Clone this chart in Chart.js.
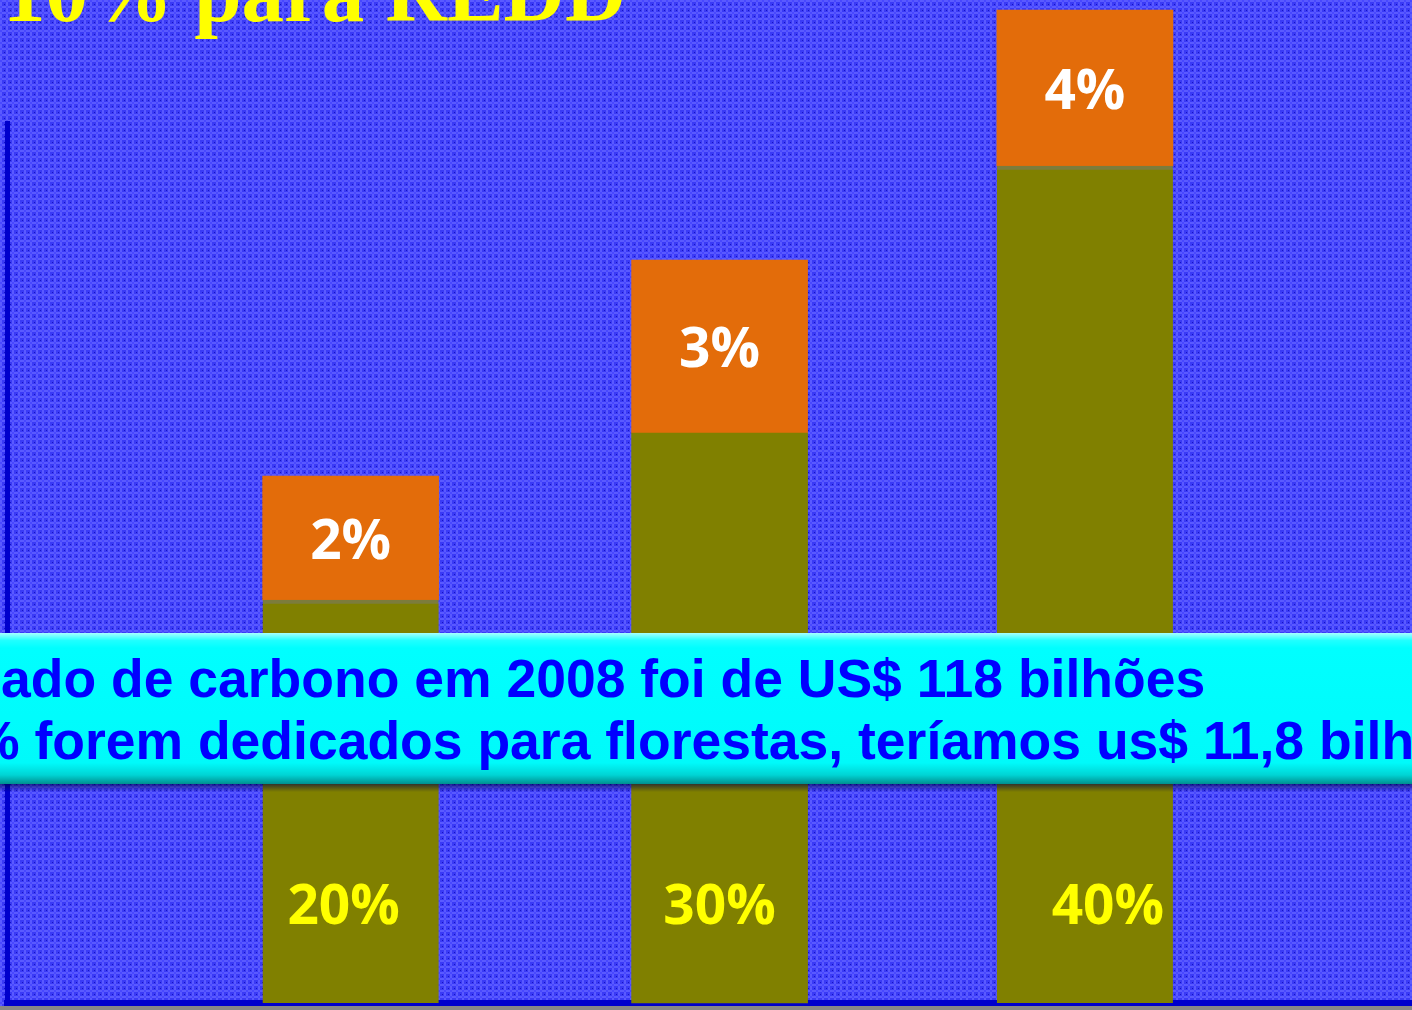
<!DOCTYPE html>
<html><head><meta charset="utf-8">
<script src="https://cdn.jsdelivr.net/npm/chart.js@4.4.1/dist/chart.umd.min.js"></script>
<style>
html,body{margin:0;padding:0;background:#878787;overflow:hidden;}
#wrap{width:1412px;height:1006px;position:relative;}
</style></head><body>
<div id="wrap"><canvas id="c"></canvas></div>
<script>
// ---- data ----
const barSlots = [1, 2.005, 3];
const baseValues = [20.15, 28.5, 41.85];
const topValues = [6.2, 8.65, 7.8];
const baseLabels = ['20%', '30%', '40%'];
const topLabels = ['2%', '3%', '4%'];
const baseLabelLevel = 5;
const titleText = '10% para REDD';
const bannerLines = [
  'ado de carbono em 2008 foi de US$ 118 bilhões',
  '% forem dedicados para florestas, teríamos us$ 11,8 bilhões'
];

function makePattern(ctx){
  const p = document.createElement('canvas'); p.width = 6; p.height = 6;
  const g = p.getContext('2d');
  g.fillStyle = '#3a3af6'; g.fillRect(0,0,6,6);
  g.fillStyle = '#5a5aff'; g.fillRect(0,0,6,2); g.fillRect(0,0,2,6);
  g.fillStyle = '#4848ff'; g.fillRect(0,0,2,2);
  g.fillStyle = '#1515c0'; g.fillRect(4,4,1,1);
  return ctx.createPattern(p, 'repeat');
}

const bgPlugin = {
  id: 'bg',
  beforeDraw(chart){
    const ctx = chart.ctx;
    ctx.save();
    ctx.fillStyle = makePattern(ctx);
    ctx.fillRect(0, 0, chart.width, chart.height);
    ctx.restore();
  }
};

const labelPlugin = {
  id: 'segLabels',
  afterDatasetsDraw(chart, args, opts){
    const ctx = chart.ctx, y = chart.scales.y;
    ctx.save();
    ctx.textAlign = 'center';
    ctx.textBaseline = 'middle';
    ctx.font = 'bold 55px "Open Sans"';
    chart.getDatasetMeta(1).data.forEach((bar, i) => {
      ctx.fillStyle = '#ffffff';
      ctx.fillText(topLabels[i], bar.x, (bar.y + bar.base) / 2 + opts.dy);
    });
    chart.getDatasetMeta(0).data.forEach((bar, i) => {
      ctx.fillStyle = '#ffff00';
      ctx.fillText(baseLabels[i], bar.x + opts.nudge[i], y.getPixelForValue(baseLabelLevel) + opts.dy);
    });
    ctx.restore();
  }
};

const overlayPlugin = {
  id: 'overlay',
  afterDraw(chart){
    const ctx = chart.ctx, w = chart.width;
    ctx.save();
    // title
    ctx.fillStyle = '#ffff00';
    ctx.font = 'bold 85px "Liberation Serif"';
    ctx.textAlign = 'left';
    ctx.textBaseline = 'alphabetic';
    ctx.fillText(titleText, 3, 21);
    // banner shadow
    const top = 633, bot = 784;
    const sh = ctx.createLinearGradient(0, bot, 0, bot + 8);
    sh.addColorStop(0, 'rgba(0,0,70,0.6)');
    sh.addColorStop(1, 'rgba(0,0,70,0)');
    ctx.fillStyle = sh;
    ctx.fillRect(0, bot, w, 8);
    // banner
    const g = ctx.createLinearGradient(0, top, 0, bot);
    g.addColorStop(0, '#a8ffff');
    g.addColorStop(0.05, '#20ffff');
    g.addColorStop(0.1, '#00ffff');
    g.addColorStop(0.86, '#00fafa');
    g.addColorStop(0.94, '#00d4d4');
    g.addColorStop(1, '#008f8f');
    ctx.fillStyle = g;
    ctx.fillRect(0, top, w, bot - top);
    ctx.fillStyle = '#0000ff';
    ctx.font = 'bold 53.5px "Liberation Sans"';
    ctx.fillText(bannerLines[0], 1, 697);
    ctx.fillText(bannerLines[1], -28, 759);
    ctx.restore();
  }
};

Promise.all([
  document.fonts.load('bold 55px "Open Sans"'),
  document.fonts.load('bold 53px "Liberation Sans"'),
  document.fonts.load('bold 85px "Liberation Serif"')
]).catch(()=>{}).then(() => {
  new Chart(document.getElementById('c'), {
    type: 'bar',
    data: {
      datasets: [
        { data: barSlots.map((x, i) => ({ x, y: baseValues[i] })), backgroundColor: '#808000',
          borderColor: '#7c7c3c', borderWidth: [{ top: 4 }, { top: 0 }, { top: 4 }], borderSkipped: 'start',
          clip: false, barThickness: 176 },
        { data: barSlots.map((x, i) => ({ x, y: topValues[i] })), backgroundColor: '#e36c0a', clip: false, barThickness: 176 }
      ]
    },
    options: {
      responsive: true, maintainAspectRatio: false, animation: false,
      layout: { padding: { top: 123, left: 7, right: 0, bottom: 3 } },
      plugins: { legend: { display: false }, tooltip: { enabled: false }, segLabels: { nudge: [-7, 0, 23], dy: 5 } },
      scales: {
        x: { type: 'linear', stacked: true, offset: false, min: 0.064, max: 3.891,
             ticks: { display: false }, grid: { display: false, drawTicks: false, offset: false },
             border: { display: true, color: '#0000cc', width: 6 } },
        y: { stacked: true, min: 0, max: 44,
             ticks: { display: false }, grid: { display: false, drawTicks: false },
             border: { display: true, color: '#0000cc', width: 5 } }
      }
    },
    plugins: [bgPlugin, labelPlugin, overlayPlugin]
  });
});
</script>
</body></html>
